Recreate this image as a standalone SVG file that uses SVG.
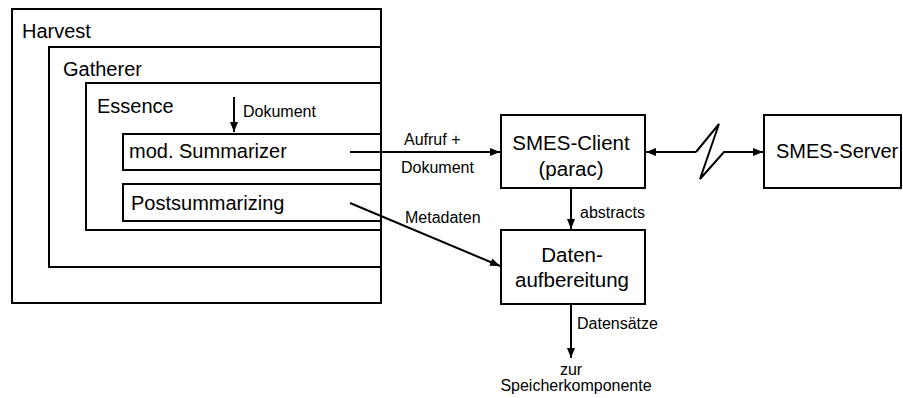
<svg xmlns="http://www.w3.org/2000/svg" width="903" height="398" viewBox="0 0 903 398">
<style>
.box{fill:#fff;stroke:#000;stroke-width:2}
.ln{fill:none;stroke:#000;stroke-width:2}
text{font-family:"Liberation Sans",Arial,sans-serif;fill:#000}
.big{font-size:20px}
.xl{font-size:20.5px}
.sm{font-size:16px}
</style>
<defs>
<marker id="ah" markerWidth="10" markerHeight="8" refX="10" refY="4" orient="auto" markerUnits="userSpaceOnUse">
<path d="M0,0 L10,4 L0,8 Z" fill="#000"/>
</marker>
</defs>
<g id="harvest"><rect class="box" x="12" y="9" width="369" height="294"/><text class="big" x="22" y="38">Harvest</text></g>
<g id="gatherer"><rect class="box" x="49" y="47" width="332" height="220"/><text class="big" x="63" y="76">Gatherer</text></g>
<g id="essence"><rect class="box" x="86" y="83" width="295" height="147"/><text class="big" x="97" y="113">Essence</text></g>
<g id="summarizer"><rect class="box" x="123" y="134" width="258" height="36"/><text class="big" x="129" y="158">mod. Summarizer</text></g>
<g id="postsummarizing"><rect class="box" x="123" y="184" width="258" height="37"/><text class="big" x="131" y="210">Postsummarizing</text></g>
<g id="smes-client"><rect class="box" x="501" y="115" width="144" height="73"/><text class="xl" x="571" y="150" text-anchor="middle">SMES-Client</text><text class="xl" x="571" y="176" text-anchor="middle">(parac)</text></g>
<g id="datenaufbereitung"><rect class="box" x="501" y="230" width="144" height="74"/><text class="xl" x="572" y="262" text-anchor="middle">Daten-</text><text class="xl" x="572" y="287" text-anchor="middle">aufbereitung</text></g>
<g id="smes-server"><rect class="box" x="764" y="115" width="137" height="73"/><text class="big" x="776" y="158">SMES-Server</text></g>
<g id="connectors">
<line class="ln" x1="234" y1="97" x2="234" y2="132" marker-end="url(#ah)"/>
<text class="sm" x="243" y="117">Dokument</text>
<line class="ln" x1="350" y1="152" x2="500" y2="152" marker-end="url(#ah)"/>
<text class="sm" x="404" y="145">Aufruf +</text>
<text class="sm" x="401" y="173">Dokument</text>
<line class="ln" x1="350" y1="203" x2="500" y2="266" marker-end="url(#ah)"/>
<text class="sm" x="405" y="223">Metadaten</text>
<line class="ln" x1="571" y1="188" x2="571" y2="229" marker-end="url(#ah)"/>
<text class="sm" x="580" y="218">abstracts</text>
<line class="ln" x1="571" y1="304" x2="571" y2="358" marker-end="url(#ah)"/>
<text class="sm" x="577" y="329">Datensätze</text>
<text class="sm" x="571" y="375" text-anchor="middle">zur</text>
<text class="sm" x="576" y="391" text-anchor="middle">Speicherkomponente</text>
<polyline class="ln" points="696,152 719,124 700,179 724,152 763,152" marker-end="url(#ah)"/>
<line class="ln" x1="696" y1="152" x2="646" y2="152" marker-end="url(#ah)"/>
</g>
</svg>
